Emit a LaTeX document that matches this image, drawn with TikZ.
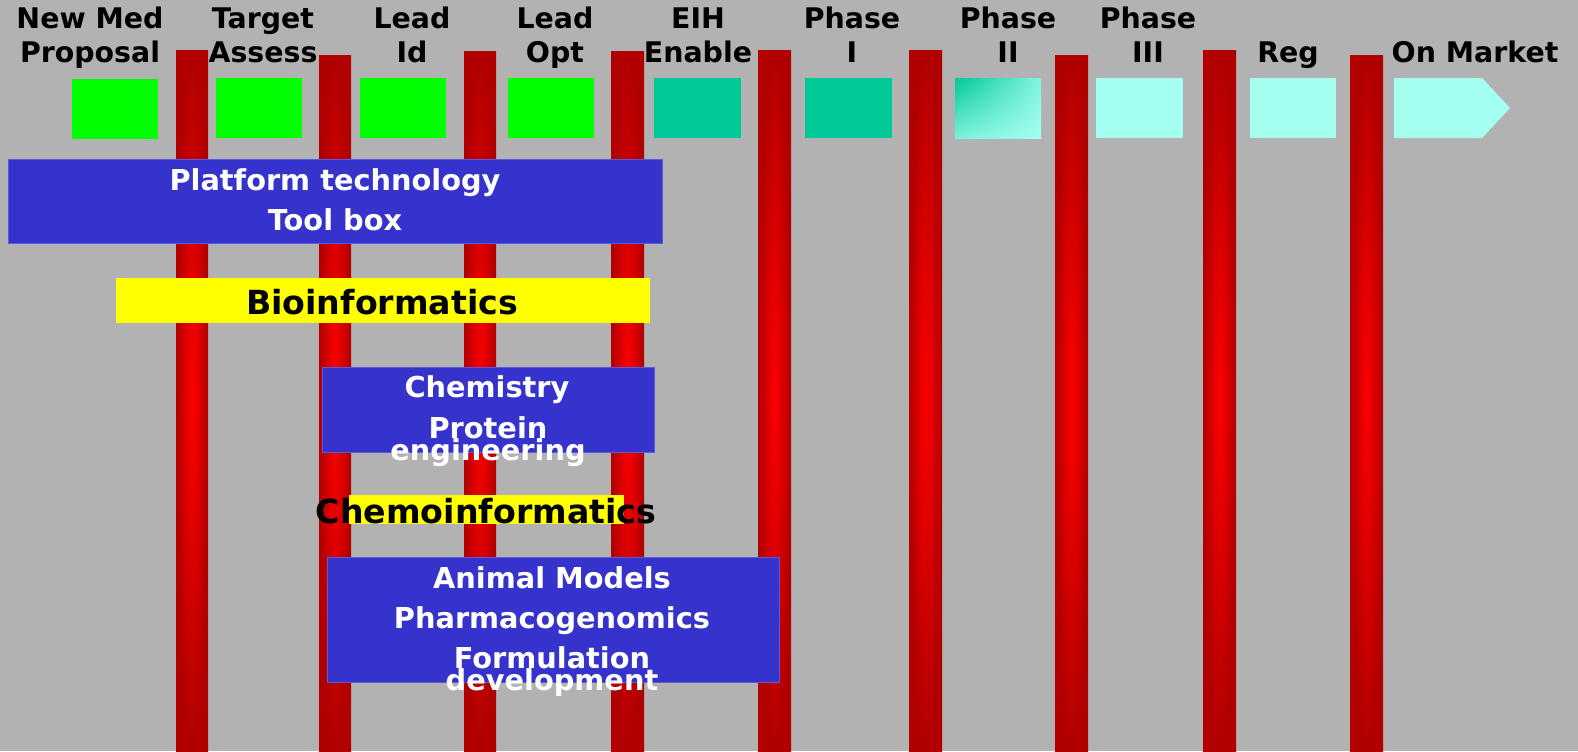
\documentclass[tikz,border=0pt]{standalone}
\usepackage{fontspec}
\setmainfont{DejaVu Sans}
\usetikzlibrary{shadings}
\definecolor{bg}{RGB}{178,178,178}
\definecolor{bardark}{RGB}{176,0,0}
\definecolor{barlight}{RGB}{255,0,0}
\definecolor{boxblue}{RGB}{54,51,204}
\definecolor{boxedge}{RGB}{90,90,225}
\definecolor{stepgreen}{RGB}{0,255,0}
\definecolor{stepteal}{RGB}{0,200,150}
\definecolor{steplight}{RGB}{163,255,240}
\definecolor{hiyellow}{RGB}{255,255,0}
\begin{document}
\begin{tikzpicture}[x=0.5pt,y=-0.5pt,
  gatebar/.style={inner color=barlight, outer color=bardark},
  toplabel/.style={anchor=base, inner sep=0pt, font=\fontsize{14.2}{16}\selectfont\bfseries, text=black},
  bodytext/.style={anchor=base, inner sep=0pt, font=\fontsize{14.4}{16}\selectfont\bfseries, text=white},
  bigtext/.style={anchor=base, inner sep=0pt, font=\fontsize{16.6}{18}\selectfont\bfseries, text=black},
  bluebox/.style={fill=boxblue, draw=boxedge, line width=0.5pt},
  yellowbar/.style={fill=hiyellow}]
\fill[bg] (0,0) rectangle (1578,751);
\useasboundingbox (0,0) rectangle (1578,751);

% gate bars
\shade[gatebar] (176,50) rectangle (208,751);
\shade[gatebar] (319,55) rectangle (351,751);
\shade[gatebar] (464,51) rectangle (496,751);
\shade[gatebar] (611,51) rectangle (644,751);
\shade[gatebar] (758,50) rectangle (791,751);
\shade[gatebar] (909,50) rectangle (942,751);
\shade[gatebar] (1055,55) rectangle (1088,751);
\shade[gatebar] (1203,50) rectangle (1236,751);
\shade[gatebar] (1350,55) rectangle (1383,751);

% stage squares
\fill[stepgreen] (72,79) rectangle (158,139);
\fill[stepgreen] (216,78) rectangle (302,138);
\fill[stepgreen] (360,78) rectangle (446,138);
\fill[stepgreen] (508,78) rectangle (594,138);
\fill[stepteal] (654,78) rectangle (741,138);
\fill[stepteal] (805,78) rectangle (892,138);
\shade[upper left=stepteal, upper right=steplight!80!stepteal, lower left=steplight!75!stepteal, lower right=steplight] (955,78) rectangle (1041,138);
\fill[steplight] (1096,78) rectangle (1183,138);
\fill[steplight] (1250,78) rectangle (1336,138);
\fill[steplight] (1394,78) -- (1482,78) -- (1510,108) -- (1482,138) -- (1394,138) -- cycle;

% stage labels
\node[toplabel] (l1a) at (90,28) {New Med};
\node[toplabel] (l1b) at (90,62) {Proposal};
\node[toplabel] (l2a) at (263,28) {Target};
\node[toplabel] (l2b) at (263,62) {Assess};
\node[toplabel] (l3a) at (412,28) {Lead};
\node[toplabel] (l3b) at (412,62) {Id};
\node[toplabel] (l4a) at (555,28) {Lead};
\node[toplabel] (l4b) at (555,62) {Opt};
\node[toplabel] (l5a) at (698,28) {EIH};
\node[toplabel] (l5b) at (698,62) {Enable};
\node[toplabel] (l6a) at (852,28) {Phase};
\node[toplabel] (l6b) at (852,62) {I};
\node[toplabel] (l7a) at (1008,28) {Phase};
\node[toplabel] (l7b) at (1008,62) {II};
\node[toplabel] (l8a) at (1148,28) {Phase};
\node[toplabel] (l8b) at (1148,62) {III};
\node[toplabel] (l9b) at (1288,62) {Reg};
\node[toplabel] (l10b) at (1475,62) {On Market};

% platform box
\path[bluebox] (8,159) rectangle (662,243);
\node[bodytext] (pt) at (335,190) {Platform technology};
\node[bodytext] (tb) at (335,230) {Tool box};

% bioinformatics
\path[yellowbar] (116,278) rectangle (650,323);
\node[bigtext] (bio) at (382,314) {Bioinformatics};

% chemistry box
\path[bluebox] (322,367) rectangle (654,452);
\node[bodytext] (chem) at (487,397) {Chemistry};
\node[bodytext] (prot) at (488,438) {Protein};
\node[bodytext] (eng) at (488,460) {engineering};

% chemoinformatics
\path[yellowbar] (349,495) rectangle (624,524);
\node[bigtext] (chemo) at (486,523) {Chemoinformatics};

% animal box
\path[bluebox] (327,557) rectangle (779,682);
\node[bodytext] (anim) at (552,588) {Animal Models};
\node[bodytext] (pharm) at (552,628) {Pharmacogenomics};
\node[bodytext] (form) at (552,668) {Formulation};
\node[bodytext] (dev) at (552,690) {development};
\end{tikzpicture}
\end{document}
